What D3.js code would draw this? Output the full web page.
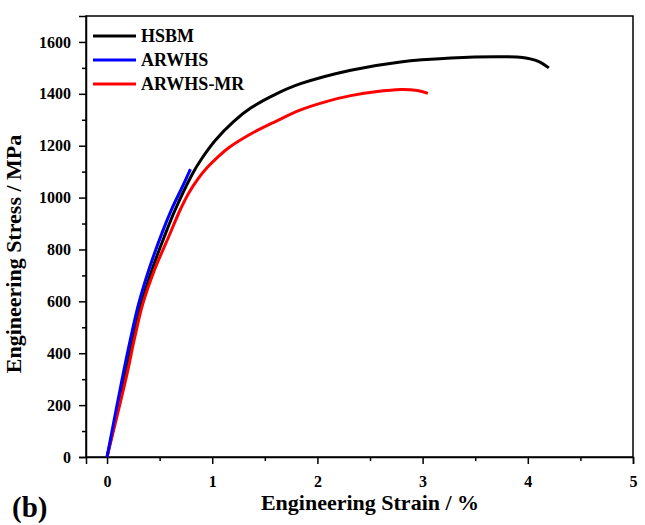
<!DOCTYPE html>
<html lang="en">
<head>
<meta charset="UTF-8">
<title>Engineering stress-strain</title>
<style>
  body { margin: 0; background: #fff; }
  text { font-family: "Liberation Serif", "Times New Roman", serif; font-weight: bold; fill: #000; }
</style>
</head>
<body>
<div id="chart"></div>
<script src="https://d3js.org/d3.v7.min.js"></script>
<script>
// series data, [strain %, stress MPa]
const hsbm = [[0,0],[0.165,300],[0.245,450],[0.325,590],[0.43,725],[0.545,850],[0.65,955],[0.81,1090],[0.89,1144],[1.03,1221],[1.2,1292],[1.365,1345],[1.6,1398],[1.84,1439],[2.317,1491],[2.79,1523],[3.27,1538],[3.7,1543],[3.95,1540],[4.1,1525],[4.2,1500]];
const arwhs = [[0,0],[0.143,300],[0.22,450],[0.3,590],[0.4,725],[0.524,865],[0.62,960],[0.72,1045],[0.793,1110]];
const arwhsMr = [[0,0],[0.19,320],[0.26,455],[0.34,590],[0.45,720],[0.587,850],[0.698,955],[0.78,1020],[0.87,1075],[0.95,1115],[1.05,1155],[1.16,1193],[1.365,1245],[1.6,1293],[1.84,1338],[2.1,1372],[2.317,1393],[2.55,1408],[2.79,1417],[2.95,1413],[3.05,1402]];
const seriesNames = ["HSBM", "ARWHS", "ARWHS-MR"];
const seriesColors = ["#000000", "#0000ff", "#ff0000"];
const xTicks = [0, 1, 2, 3, 4, 5];
const yTicks = [0, 200, 400, 600, 800, 1000, 1200, 1400, 1600];

const width = 645, height = 525;
const margin = {left: 86, right: 12, top: 16, bottom: 68};

const svg = d3.select("#chart").append("svg")
    .attr("width", width)
    .attr("height", height);

const x = d3.scaleLinear().domain([-0.2, 5]).range([margin.left, width - margin.right]);
const y = d3.scaleLinear().domain([0, 1700]).range([height - margin.bottom, margin.top]);

// frame
svg.append("rect")
    .attr("x", margin.left).attr("y", margin.top)
    .attr("width", width - margin.left - margin.right)
    .attr("height", height - margin.top - margin.bottom)
    .attr("fill", "none").attr("stroke", "#000").attr("stroke-width", 1.5);

// minor ticks
const xMinor = d3.range(0.5, 5, 1);
const yMinor = d3.range(100, 1700, 200);

svg.append("g")
    .attr("transform", `translate(0,${y(0)})`)
    .call(d3.axisBottom(x).tickValues(xTicks).tickSize(7).tickPadding(12).tickFormat(d3.format("d")));
svg.append("g")
    .attr("transform", `translate(0,${y(0)})`)
    .call(d3.axisBottom(x).tickValues(xMinor).tickSize(4).tickFormat(""))
    .select(".domain").remove();

svg.append("g")
    .attr("transform", `translate(${margin.left},0)`)
    .call(d3.axisLeft(y).tickValues(yTicks).tickSize(7).tickPadding(8).tickFormat(d3.format("d")));
svg.append("g")
    .attr("transform", `translate(${margin.left},0)`)
    .call(d3.axisLeft(y).tickValues(yMinor).tickSize(4).tickFormat(""))
    .select(".domain").remove();

svg.selectAll(".tick line").attr("stroke-width", 1.5);
svg.selectAll(".domain").attr("stroke-width", 1.5);
svg.selectAll(".tick text").style("font-size", "16px").style("font-family", "Liberation Serif").style("font-weight", "bold");

// curves
const line = d3.line()
    .x(d => x(d[0]))
    .y(d => y(d[1]))
    .curve(d3.curveCatmullRom.alpha(0.5));

const allSeries = [hsbm, arwhs, arwhsMr];
const drawOrder = [0, 2, 1];
drawOrder.forEach(i => {
  svg.append("path")
      .datum(allSeries[i])
      .attr("d", line)
      .attr("fill", "none")
      .attr("stroke", seriesColors[i])
      .attr("stroke-width", 3);
});

// legend
const legend = svg.append("g").attr("transform", `translate(93,36)`);
seriesNames.forEach((name, i) => {
  legend.append("line")
      .attr("x1", 0).attr("x2", 43)
      .attr("y1", i * 24).attr("y2", i * 24)
      .attr("stroke", seriesColors[i]).attr("stroke-width", 3);
  legend.append("text")
      .attr("x", 48).attr("y", i * 24 + 6)
      .style("font-size", "18px")
      .text(name);
});

// axis titles
svg.append("text")
    .attr("x", 370)
    .attr("y", 510)
    .attr("text-anchor", "middle")
    .style("font-size", "22px")
    .text("Engineering Strain / %");

svg.append("text")
    .attr("transform", `translate(21,254) rotate(-90)`)
    .attr("text-anchor", "middle")
    .style("font-size", "22px")
    .text("Engineering Stress / MPa");

svg.append("text")
    .attr("x", 12).attr("y", 517)
    .style("font-size", "29px")
    .text("(b)");
</script>
</body>
</html>
